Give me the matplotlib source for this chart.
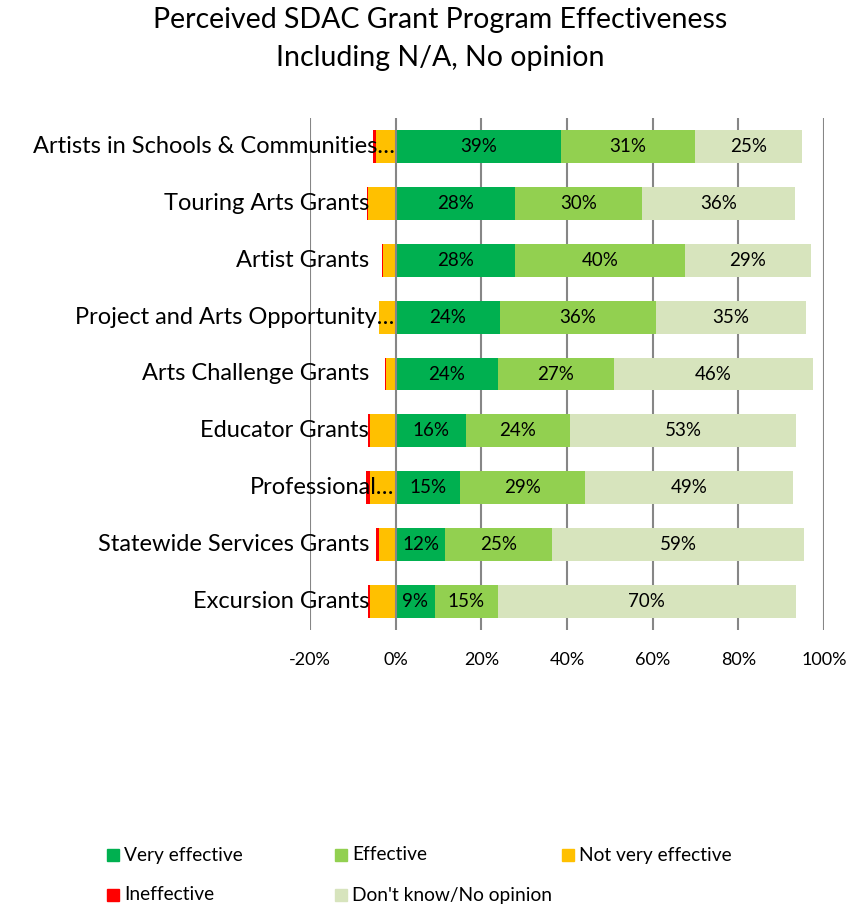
import matplotlib
matplotlib.use("Agg")
import matplotlib.pyplot as plt
from matplotlib.patches import Rectangle
import numpy as np

plt.rcParams['font.family'] = ['Lato', 'DejaVu Sans']

categories = ["Artists in Schools & Communities…", "Touring Arts Grants", "Artist Grants",
              "Project and Arts Opportunity…", "Arts Challenge Grants", "Educator Grants",
              "Professional…", "Statewide Services Grants", "Excursion Grants"]
very_effective = [38.6, 27.8, 27.8, 24.3, 23.8, 16.4, 15.0, 11.6, 9.1]
effective = [31.3, 29.7, 39.7, 36.4, 27.1, 24.3, 29.2, 24.8, 14.7]
dont_know = [25.0, 35.7, 29.4, 35.1, 46.5, 52.8, 48.6, 59.0, 69.7]
not_very_effective = [4.7, 6.5, 2.9, 3.9, 2.3, 6.1, 6.0, 4.0, 6.0]
ineffective = [0.5, 0.3, 0.3, 0.0, 0.3, 0.3, 1.0, 0.6, 0.5]
xticks = [-20, 0, 20, 40, 60, 80, 100]

colors = {"Very effective": "#00B050", "Effective": "#92D050", "Not very effective": "#FFC000",
          "Ineffective": "#FF0000", "Don't know/No opinion": "#D7E4BD"}

fig = plt.figure(figsize=(8.66, 9.06), dpi=100)
W, H = 866, 906
ax = fig.add_axes([310 / W, 1 - 630 / H, (824 - 310) / W, (630 - 118) / H])

y = np.arange(len(categories))
h = 0.58
ve = np.array(very_effective)
ef = np.array(effective)
dk = np.array(dont_know)
nve = np.array(not_very_effective)
ine = np.array(ineffective)

b1 = ax.barh(y, ve, height=h, color=colors["Very effective"], zorder=3)
b2 = ax.barh(y, ef, left=ve, height=h, color=colors["Effective"], zorder=3)
b3 = ax.barh(y, dk, left=ve + ef, height=h, color=colors["Don't know/No opinion"], zorder=3)
ax.barh(y, -nve, height=h, color=colors["Not very effective"], zorder=3)
ax.barh(y, -ine, left=-nve, height=h, color=colors["Ineffective"], zorder=3)

for bars, vals in [(b1, ve), (b2, ef), (b3, dk)]:
    for bar, v in zip(bars, vals):
        ax.text(bar.get_x() + bar.get_width() / 2, bar.get_y() + bar.get_height() / 2,
                f"{round(v):.0f}%", ha='center', va='center', fontsize=13.5, color='black', zorder=4)

# category labels, truncated ones spill over the negative bars like in Excel
for yi, lab in zip(y, categories):
    xpos = -0.3 if lab.endswith("…") else -6.2
    ax.text(xpos, yi, lab, ha='right', va='center', fontsize=17, zorder=5)

ax.set_xlim(-20, 100)
ax.set_ylim(len(categories) - 0.5, -0.5)
ax.set_yticks([])
ax.set_xticks(xticks)
ax.set_xticklabels([f"{t}%" for t in xticks], fontsize=13)
ax.tick_params(axis='x', length=0, pad=16)
for s in ax.spines.values():
    s.set_visible(False)
for t in xticks:
    ax.axvline(t, color='#868686', lw=1.5, zorder=2 if t != 0 else 4)

fig.text(440 / W, 1 - 20 / H, "Perceived SDAC Grant Program Effectiveness", ha='center', va='center', fontsize=20.5)
fig.text(440 / W, 1 - 58 / H, "Including N/A, No opinion", ha='center', va='center', fontsize=20.5)

# legend laid out in two rows like the original
legend_items = [("Very effective", 107, 855), ("Effective", 335, 855), ("Not very effective", 562, 855),
                ("Ineffective", 107, 895), ("Don't know/No opinion", 335, 895)]
for name, px, py in legend_items:
    fig.add_artist(Rectangle((px / W, 1 - (py + 6) / H), 12 / W, 12 / H,
                             color=colors[name], transform=fig.transFigure))
    fig.text((px + 17) / W, 1 - py / H, name, ha='left', va='center', fontsize=13.8)

fig.savefig("out.png", dpi=100)
